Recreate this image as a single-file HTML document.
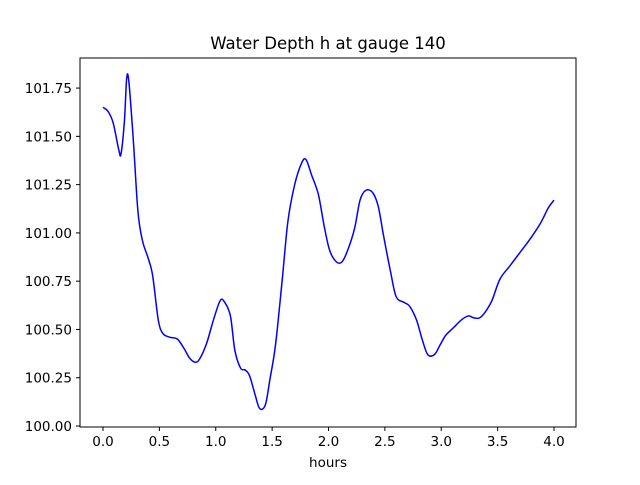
<!DOCTYPE html>
<html><head><meta charset="utf-8"><style>
body{margin:0;background:#fff}
svg text{font-family:"DejaVu Sans","Liberation Sans",sans-serif;font-size:13.5px;fill:#000}
</style></head><body>
<svg id="c" width="640" height="480"></svg>
<script>
const hours=[0,0.044,0.09,0.14,0.16,0.19,0.21,0.23,0.27,0.31,0.35,0.40,0.44,0.49,0.53,0.59,0.66,0.72,0.77,0.82,0.86,0.92,0.98,1.04,1.08,1.13,1.17,1.22,1.26,1.30,1.35,1.39,1.44,1.48,1.53,1.59,1.64,1.70,1.76,1.80,1.85,1.91,1.96,2.01,2.07,2.12,2.17,2.23,2.28,2.33,2.39,2.44,2.49,2.55,2.60,2.67,2.72,2.78,2.83,2.88,2.94,2.99,3.04,3.11,3.18,3.24,3.29,3.34,3.39,3.45,3.52,3.61,3.70,3.79,3.88,3.95,4.0];
const depth=[101.65,101.63,101.57,101.43,101.41,101.58,101.80,101.78,101.47,101.11,100.96,100.87,100.78,100.55,100.48,100.46,100.45,100.40,100.35,100.33,100.35,100.43,100.55,100.65,100.64,100.57,100.39,100.30,100.29,100.26,100.16,100.09,100.11,100.24,100.42,100.76,101.06,101.25,101.36,101.38,101.30,101.20,101.04,100.91,100.85,100.85,100.91,101.02,101.17,101.22,101.21,101.14,100.98,100.80,100.67,100.64,100.62,100.55,100.45,100.37,100.37,100.42,100.47,100.51,100.55,100.57,100.56,100.56,100.59,100.65,100.76,100.83,100.90,100.97,101.05,101.13,101.17];
const xTicks=[0,0.5,1,1.5,2,2.5,3,3.5,4];
const xTickLabels=["0.0","0.5","1.0","1.5","2.0","2.5","3.0","3.5","4.0"];
const yTicks=[100,100.25,100.5,100.75,101,101.25,101.5,101.75];
const yTickLabels=["100.00","100.25","100.50","100.75","101.00","101.25","101.50","101.75"];
const NS="http://www.w3.org/2000/svg",svg=document.getElementById('c');
const X=v=>103+v*112.75, Y=v=>426-(v-100)*193.1;
function mk(t,a,p){const e=document.createElementNS(NS,t);for(const k in a)e.setAttribute(k,a[k]);(p||svg).appendChild(e);return e;}
const title=mk('text',{x:328,y:49,'text-anchor':'middle'});title.style.fontSize='16.5px';title.textContent='Water Depth h at gauge 140';


xTicks.forEach((t,i)=>{const g=mk('g',{});


mk('line',{x1:X(t),x2:X(t),y1:427,y2:431,stroke:'#000'},g);
const tx=mk('text',{x:X(t),y:446,'text-anchor':'middle'},g);tx.textContent=xTickLabels[i];});
yTicks.forEach((t,i)=>{const g=mk('g',{});


mk('line',{x1:76,x2:80,y1:Y(t),y2:Y(t),stroke:'#000'},g);
const tx=mk('text',{x:72,y:Y(t)+5,'text-anchor':'end'},g);tx.textContent=yTickLabels[i];});
const xl=mk('text',{x:328,y:467,'text-anchor':'middle'});xl.textContent='hours';


const P=hours.map((h,i)=>[X(h),Y(depth[i])]);
let d='M'+P[0][0]+','+P[0][1];
for(let i=0;i<P.length-1;i++){const p0=P[Math.max(i-1,0)],p1=P[i],p2=P[i+1],p3=P[Math.min(i+2,P.length-1)];
d+=` C${p1[0]+(p2[0]-p0[0])/6},${p1[1]+(p2[1]-p0[1])/6} ${p2[0]-(p3[0]-p1[0])/6},${p2[1]-(p3[1]-p1[1])/6} ${p2[0]},${p2[1]}`;}
const line=mk('path',{d:d,fill:'none',stroke:'#0000ff','stroke-width':1.5});


const fr=mk('rect',{x:80,y:58,width:496,height:369,fill:'none',stroke:'#000','stroke-width':1});


</script>
</body></html>
